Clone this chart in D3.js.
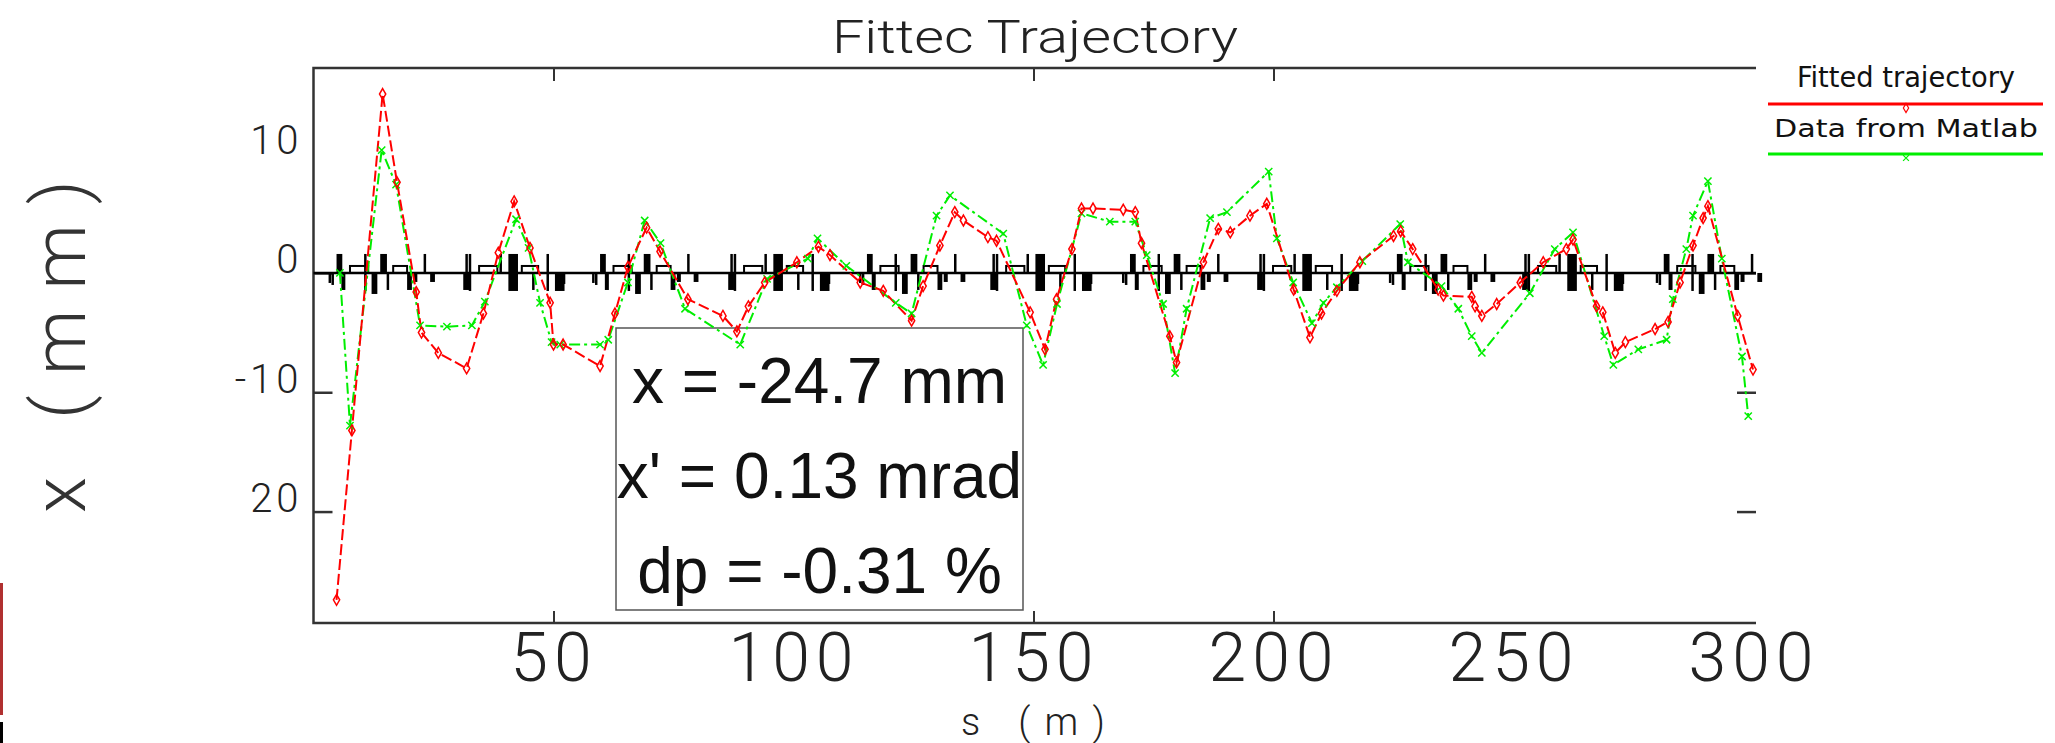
<!DOCTYPE html>
<html>
<head>
<meta charset="utf-8">
<script src="https://cdn.jsdelivr.net/npm/d3@7"></script>
<style>
  html, body { margin: 0; padding: 0; background: #fff; }
  svg { display: block; }
</style>
</head>
<body>
<svg id="chart" width="2055" height="743"></svg>
<script>
// ---------------- DATA ----------------
const fittedS = [4.8, 8.0, 14.4, 17.4, 21.4, 22.5, 26.0, 31.9, 35.4, 38.5, 41.8, 45.1, 49.3, 50.0, 52.0, 59.7, 62.8, 65.5, 69.4, 72.2,
  78.0, 85.3, 88.2, 90.6, 94.0, 100.7, 105.2, 107.6, 113.9, 118.7, 124.6, 127.0, 130.5, 133.6, 135.4, 140.5, 142.3, 149.3, 152.4, 154.8,
  158.0, 160.0, 162.4, 168.7, 171.2, 172.5, 178.4, 179.8, 185.4, 188.5, 191.0, 195.1, 198.6, 204.2, 207.6, 210.0, 213.2, 218.0, 225.0, 226.5,
  229.0, 234.3, 235.4, 241.3, 242.0, 243.4, 246.5, 251.4, 256.2, 261.0, 262.4, 267.3, 268.6, 271.2, 273.3, 279.5, 282.2, 284.7, 287.4, 289.5,
  290.5, 296.7, 299.9];
const fittedX = [-27.4, -13.2, 15.0, 7.6, -1.6, -5.0, -6.7, -8.0, -3.4, 1.7, 6.0, 2.1, -2.5, -6.0, -6.0, -7.8, -3.4, 0.5, 3.8, 1.8,
  -2.2, -3.6, -4.9, -2.8, -0.8, 0.9, 2.2, 1.5, -0.8, -1.5, -4.0, -1.1, 2.3, 5.1, 4.4, 3.0, 2.7, -3.3, -6.4, -2.2,
  2.0, 5.4, 5.4, 5.3, 5.1, 2.5, -5.3, -7.5, 0.9, 3.7, 3.4, 4.8, 5.8, -1.4, -5.4, -3.4, -1.5, 0.9, 3.1, 3.5,
  2.0, -1.4, -1.9, -2.0, -2.8, -3.6, -2.6, -0.8, 0.9, 2.0, 2.8, -2.8, -3.3, -6.7, -5.8, -4.7, -4.1, -0.8, 2.3, 4.6,
  5.6, -3.6, -8.1];

const matlabS = [5.5, 7.6, 14.2, 17.2, 22.2, 27.8, 33.0, 35.7, 42.2, 44.8, 47.2, 49.6, 51.4, 59.7, 61.4, 65.5, 69.0, 72.3, 77.4, 88.9,
  94.5, 103.0, 105.0, 111.0, 121.3, 124.6, 129.8, 132.6, 143.7, 148.6, 152.0, 154.9, 160.0, 165.9, 171.2, 173.6, 177.0, 179.5, 181.9, 186.8,
  190.3, 199.0, 200.7, 204.1, 208.0, 210.4, 213.2, 218.5, 226.4, 228.0, 235.0, 238.5, 241.3, 243.4, 253.4, 258.6, 262.4, 268.9, 270.8, 276.0,
  281.9, 283.2, 286.0, 287.4, 290.5, 293.4, 297.6, 298.9];
const matlabX = [0.0, -12.8, 10.3, 7.4, -4.4, -4.5, -4.4, -2.4, 4.5, 2.1, -2.5, -5.8, -6.0, -6.0, -5.6, -0.8, 4.4, 2.5, -3.0, -6.0,
  -0.5, 1.2, 2.9, 0.6, -2.5, -3.4, 4.8, 6.5, 3.3, -4.4, -7.7, -2.6, 5.0, 4.3, 4.3, 1.5, -2.6, -8.4, -3.0, 4.6,
  5.1, 8.5, 2.9, -0.8, -4.2, -2.5, -1.2, 1.0, 4.1, 0.9, -1.1, -3.0, -5.3, -6.7, -1.7, 2.0, 3.4, -5.3, -7.7, -6.4,
  -5.6, -2.2, 2.0, 4.8, 7.7, 1.2, -7.0, -12.0];

// lattice: cell start positions (m) and which cell pattern each uses
const cellStarts = [3.4, 31.2, 58.3, 86.4, 113.9, 141.0, 168.7, 196.6, 224.3, 251.8, 279.9];
const cellKinds  = ["A", "B", "A", "B", "A", "B", "A", "B", "A", "B", "A"];
// pattern entries: [offset m, length m, kind, up px, down px]
const patternA = [[0.0, 0, "thin", 0, 10], [0.6, 0, "thin", 0, 12], [1.4, 1.2, "quad", 19, 0], [2.4, 0.8, "quad", 0, 17],
  [4.2, 3.8, "bend", 7, 0], [7.4, 0, "thin", 19, 18], [8.7, 1.2, "quad", 0, 21], [10.5, 1.4, "quad", 19, 0],
  [12.1, 0, "thin", 0, 17], [13.2, 2.9, "bend", 7, 0], [16.1, 1.0, "quad", 0, 17], [17.4, 0.6, "quad", 0, 9],
  [19.8, 0, "thin", 19, 0], [20.9, 1.0, "quad", 0, 9]];
const patternB = [[0.0, 1.2, "quad", 0, 17], [0.7, 0, "thin", 19, 0], [1.4, 0, "thin", 19, 18], [3.3, 3.8, "bend", 7, 0],
  [7.8, 0, "thin", 19, 0], [9.4, 2.0, "quad", 19, 18], [12.2, 3.4, "bend", 7, 0], [14.6, 0, "thin", 0, 17],
  [17.6, 0, "thin", 19, 18], [19.1, 2.0, "quad", 0, 18], [21.0, 0, "thin", 0, 11]];

const xTickLabels = [50, 100, 150, 200, 250, 300];
const xTickMarks = [50, 150, 200];
const yTickValues = [10, 0, -10, -20];
const yTickTexts = ["10", "0", "-10", "20"];
const yTickMarks = [0, -10, -20];

const titleText = "Fittec  Trajectory";
const xLabel = "s (m)";
const yLabel = "x (mm)";
const legendNames = ["Fitted trajectory", "Data from Matlab"];
const boxLines = ["x = -24.7 mm", "x' = 0.13 mrad", "dp = -0.31 %"];

// ---------------- CHART ----------------
const svg = d3.select("#chart");
const X0 = 313.5, X1 = 1753.5, Ytop = 68, Ybot = 623;
const x = d3.scaleLinear().domain([0, 300]).range([X0, X1]);
const y = d3.scaleLinear().domain([-29.34, 17.18]).range([Ybot, Ytop]);
const XR = x(300) + 2.5;
const hershey = "Roboto, 'DejaVu Sans', sans-serif";

// edge artifacts
svg.append("rect").attr("x", 0).attr("y", 583).attr("width", 3).attr("height", 132).attr("fill", "#b03030");
svg.append("rect").attr("x", 0).attr("y", 722).attr("width", 3).attr("height", 21).attr("fill", "#000");

// frame (top, left, bottom; no right side)
svg.append("path")
  .attr("d", `M${XR},${Ytop}H${X0}V${Ybot}H${XR}`)
  .attr("fill", "none").attr("stroke", "#333").attr("stroke-width", 2.5);

// x ticks (bottom & top) with d3 axes
const xMarksB = d3.axisBottom(x).tickValues(xTickMarks).tickSize(-12).tickFormat("");
const gB = svg.append("g").attr("transform", `translate(0,${Ybot})`).call(xMarksB);
gB.select(".domain").remove();
gB.selectAll("line").attr("stroke", "#333").attr("stroke-width", 2);
const xMarksT = d3.axisTop(x).tickValues(xTickMarks).tickSize(-13).tickFormat("");
const gT = svg.append("g").attr("transform", `translate(0,${Ytop})`).call(xMarksT);
gT.select(".domain").remove();
gT.selectAll("line").attr("stroke", "#333").attr("stroke-width", 2);

// x tick labels
const xLab = d3.axisBottom(x).tickValues(xTickLabels).tickSize(0).tickPadding(9).tickFormat(d3.format("d"));
const gXL = svg.append("g").attr("transform", `translate(0,${Ybot})`).call(xLab);
gXL.select(".domain").remove();
gXL.selectAll("text").attr("dy", 0).attr("y", 681)
  .attr("transform", `translate(0,${-Ybot})`)
  .attr("font-family", hershey).attr("font-weight", 300).attr("font-size", 68)
  .attr("letter-spacing", 6).attr("fill", "#222");

// y ticks (left & right)
const yMarksL = d3.axisLeft(y).tickValues(yTickMarks).tickSize(-19).tickFormat("");
const gYL = svg.append("g").attr("transform", `translate(${X0},0)`).call(yMarksL);
gYL.select(".domain").remove();
gYL.selectAll("line").attr("stroke", "#333").attr("stroke-width", 2.5);
const yMarksR = d3.axisRight(y).tickValues(yTickMarks).tickSize(-19).tickFormat("");
const gYR = svg.append("g").attr("transform", `translate(${XR},0)`).call(yMarksR);
gYR.select(".domain").remove();
gYR.selectAll("line").attr("stroke", "#333").attr("stroke-width", 2.5);

// y tick labels
const yLab = d3.axisLeft(y).tickValues(yTickValues).tickSize(0).tickPadding(11)
  .tickFormat((d, i) => yTickTexts[i]);
const gYT = svg.append("g").attr("transform", `translate(${X0},0)`).call(yLab);
gYT.select(".domain").remove();
gYT.selectAll("text").attr("dy", 0).attr("font-family", hershey).attr("font-weight", 300)
  .attr("font-size", 40).attr("letter-spacing", 4).attr("fill", "#222");

// titles
svg.append("text").attr("x", 832).attr("y", 53).attr("font-family", hershey).attr("font-weight", 300)
  .attr("font-size", 46).attr("fill", "#222").attr("textLength", 406).attr("lengthAdjust", "spacingAndGlyphs")
  .text(titleText);
svg.append("text").attr("x", 961).attr("y", 735).attr("font-family", hershey).attr("font-weight", 300)
  .attr("font-size", 38).attr("fill", "#222").attr("textLength", 144).attr("lengthAdjust", "spacing")
  .text(xLabel);
svg.append("text").attr("transform", "translate(85,513) rotate(-90)").attr("font-family", hershey)
  .attr("font-weight", 300).attr("font-size", 74).attr("fill", "#333")
  .attr("textLength", 333).attr("lengthAdjust", "spacing").text(yLabel);

// parameter box (under the curves)
svg.append("rect").attr("x", 616).attr("y", 328).attr("width", 407).attr("height", 282)
  .attr("fill", "#fff").attr("stroke", "#555").attr("stroke-width", 1.5);
svg.append("g").selectAll("text").data(boxLines).join("text")
  .attr("x", 819.5).attr("y", (d, i) => 403 + i * 95).attr("text-anchor", "middle")
  .attr("font-family", "'Liberation Sans', Arial, sans-serif").attr("font-size", 64).attr("fill", "#111")
  .text(d => d);

// lattice
const zeroY = y(0);
const lat = svg.append("g").attr("class", "lattice");
lat.append("line").attr("x1", X0).attr("x2", XR).attr("y1", zeroY).attr("y2", zeroY)
  .attr("stroke", "#000").attr("stroke-width", 2.5);
const elements = [];
cellStarts.forEach((s0, i) => {
  const pat = cellKinds[i] === "A" ? patternA : patternB;
  pat.forEach(p => elements.push({ s: s0 + p[0], len: p[1], kind: p[2], up: p[3], down: p[4] }));
});
elements.forEach(e => {
  const xa = x(e.s), xb = x(e.s + e.len);
  if (e.kind === "thin") {
    lat.append("line").attr("x1", xa).attr("x2", xa).attr("y1", zeroY - e.up).attr("y2", zeroY + e.down)
      .attr("stroke", "#000").attr("stroke-width", 2.5);
  } else if (e.kind === "quad") {
    lat.append("rect").attr("x", xa).attr("width", Math.max(4, xb - xa))
      .attr("y", zeroY - e.up).attr("height", e.up + e.down)
      .attr("fill", "#000");
  } else if (e.kind === "bend") {
    lat.append("rect").attr("x", xa).attr("width", xb - xa).attr("y", zeroY - e.up).attr("height", e.up)
      .attr("fill", "none").attr("stroke", "#000").attr("stroke-width", 2);
  }
});

// series
const ptsF = fittedS.map((s, i) => [s, fittedX[i]]);
const ptsM = matlabS.map((s, i) => [s, matlabX[i]]);
const line = d3.line().x(d => x(d[0])).y(d => y(d[1]));

svg.append("path").datum(ptsM).attr("d", line).attr("fill", "none").attr("stroke", "#00ee00")
  .attr("stroke-width", 2).attr("stroke-dasharray", "11,4,3,4");
svg.append("path").datum(ptsF).attr("d", line).attr("fill", "none").attr("stroke", "#ff0000")
  .attr("stroke-width", 2).attr("stroke-dasharray", "11,4");

const symG = d3.symbol().type(d3.symbolTimes || d3.symbolCross).size(36);
const symR = d3.symbol().type(d3.symbolDiamond).size(34);
svg.append("g").selectAll("path").data(ptsM).join("path")
  .attr("transform", d => `translate(${x(d[0])},${y(d[1])})`).attr("d", symG)
  .attr("fill", "none").attr("stroke", "#00ee00").attr("stroke-width", 1.5);
svg.append("g").selectAll("path").data(ptsF).join("path")
  .attr("transform", d => `translate(${x(d[0])},${y(d[1])})`).attr("d", symR)
  .attr("fill", "none").attr("stroke", "#ff0000").attr("stroke-width", 1.5);

// legend
const legColors = ["#ff0000", "#00ee00"];
const legTextY = [87, 137], legLineY = [104, 154], legTextX = [1797, 1774], legTextW = [218, 264], legFS = [28, 25];
legendNames.forEach((name, i) => {
  svg.append("text").attr("x", legTextX[i]).attr("y", legTextY[i])
    .attr("font-family", "'Liberation Sans Narrow', 'DejaVu Sans Condensed', 'Liberation Sans', sans-serif")
    .attr("font-size", legFS[i]).attr("fill", "#111").attr("textLength", legTextW[i])
    .attr("lengthAdjust", "spacingAndGlyphs").text(name);
  svg.append("line").attr("x1", 1768).attr("x2", 2043).attr("y1", legLineY[i]).attr("y2", legLineY[i])
    .attr("stroke", legColors[i]).attr("stroke-width", 3);
  svg.append("path").attr("transform", `translate(1906,${legLineY[i] + 4})`)
    .attr("d", d3.symbol().type(i === 0 ? d3.symbolDiamond : (d3.symbolTimes || d3.symbolCross)).size(24))
    .attr("fill", "none").attr("stroke", legColors[i]).attr("stroke-width", 1.2);
});
</script>
</body>
</html>
